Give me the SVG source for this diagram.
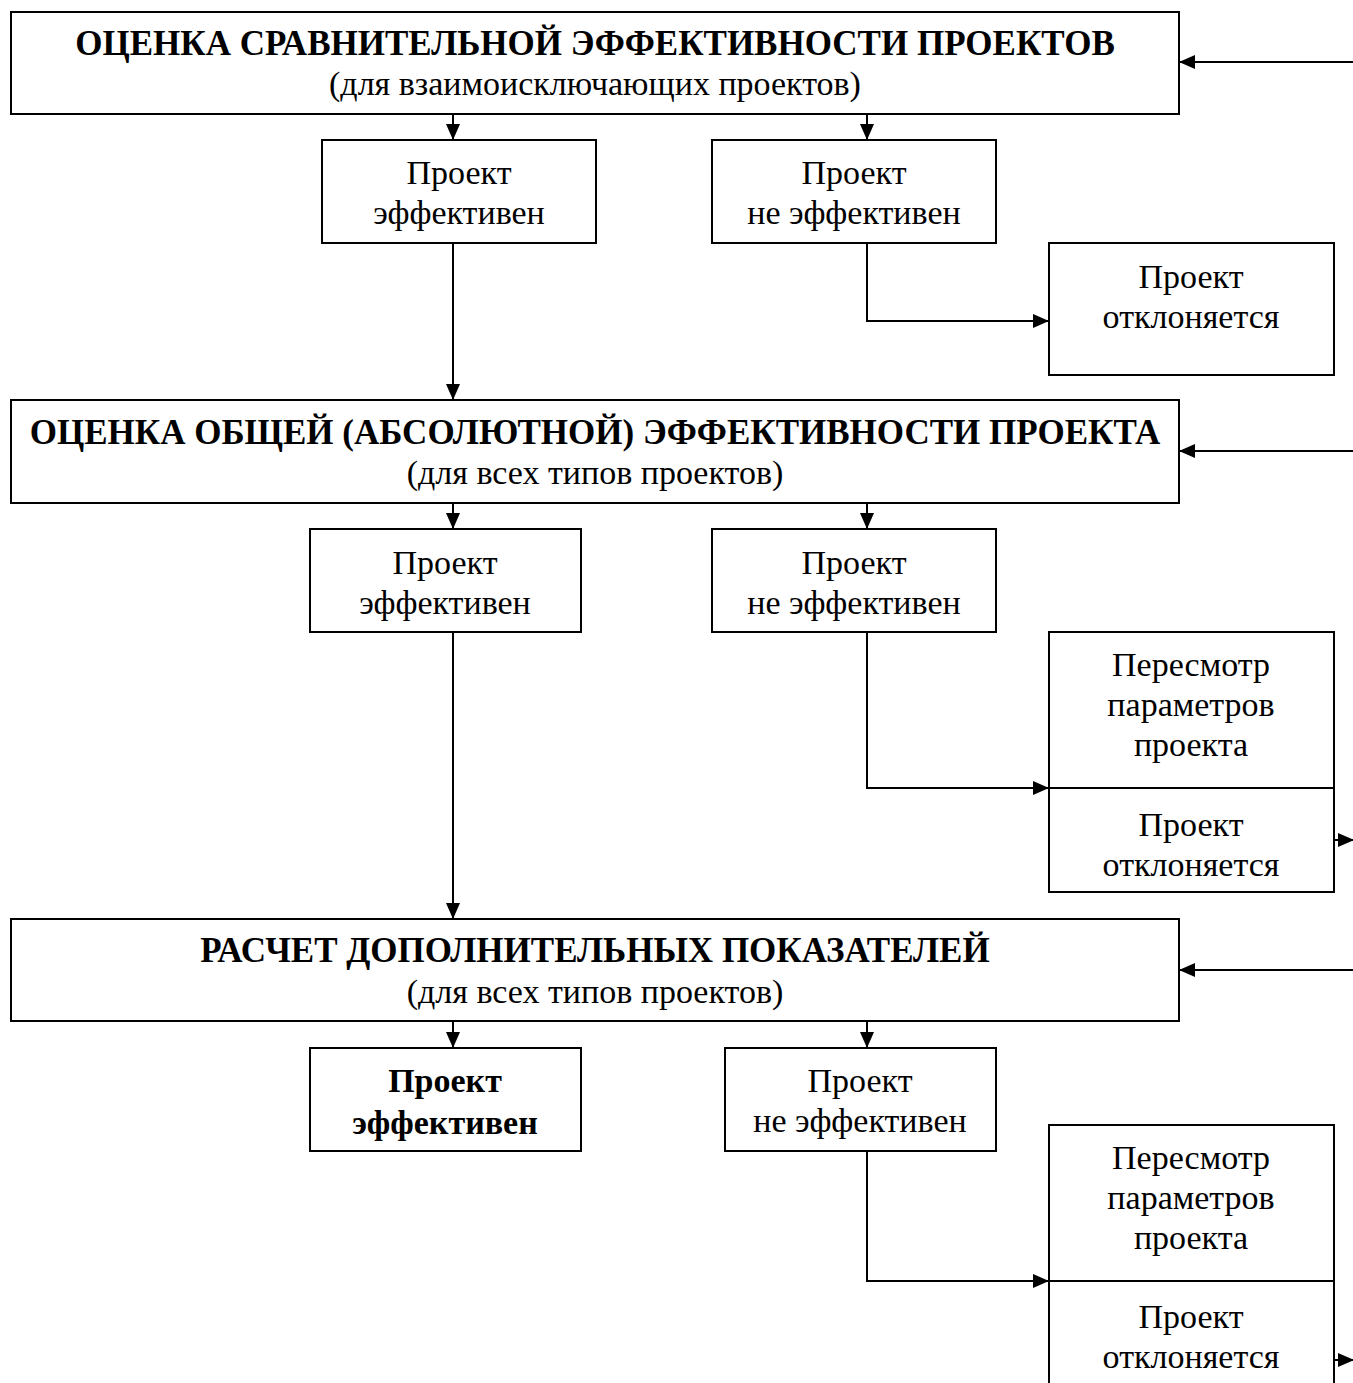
<svg xmlns="http://www.w3.org/2000/svg" width="1353" height="1383" viewBox="0 0 1353 1383">
<style>
rect{fill:#fff;stroke:#000;stroke-width:2}
text{font-family:"Liberation Serif","Times New Roman",serif;font-size:34px;fill:#000;text-anchor:middle}
.t{font-weight:bold;font-size:35px}
.b{font-weight:bold}
#connectors path,#connectors line{stroke:#000;stroke-width:2;fill:none;marker-end:url(#ah)}
</style>
<defs>
<marker id="ah" markerUnits="userSpaceOnUse" markerWidth="16" markerHeight="14" refX="15" refY="7" orient="auto">
<path d="M0,0 L16,7 L0,14 Z" fill="#000"/>
</marker>
</defs>
<rect x="0" y="0" width="1353" height="1383" style="stroke:none"/>
<g id="n1"><rect x="11" y="12" width="1168" height="102"/>
<text class="t" x="595" y="55">ОЦЕНКА СРАВНИТЕЛЬНОЙ ЭФФЕКТИВНОСТИ ПРОЕКТОВ</text>
<text x="595" y="95">(для взаимоисключающих проектов)</text></g>
<g id="n2"><rect x="322" y="140" width="274" height="103"/>
<text x="459" y="184">Проект</text><text x="459" y="224">эффективен</text></g>
<g id="n3"><rect x="712" y="140" width="284" height="103"/>
<text x="854" y="184">Проект</text><text x="854" y="224">не эффективен</text></g>
<g id="n4"><rect x="1049" y="243" width="285" height="132"/>
<text x="1191" y="288">Проект</text><text x="1191" y="328">отклоняется</text></g>
<g id="n5"><rect x="11" y="400" width="1168" height="103"/>
<text class="t" x="595" y="444">ОЦЕНКА ОБЩЕЙ (АБСОЛЮТНОЙ) ЭФФЕКТИВНОСТИ ПРОЕКТА</text>
<text x="595" y="484">(для всех типов проектов)</text></g>
<g id="n6"><rect x="310" y="529" width="271" height="103"/>
<text x="445" y="574">Проект</text><text x="445" y="614">эффективен</text></g>
<g id="n7"><rect x="712" y="529" width="284" height="103"/>
<text x="854" y="574">Проект</text><text x="854" y="614">не эффективен</text></g>
<g id="n8"><rect x="1049" y="632" width="285" height="156"/>
<text x="1191" y="676">Пересмотр</text><text x="1191" y="716">параметров</text><text x="1191" y="756">проекта</text></g>
<g id="n9"><rect x="1049" y="788" width="285" height="104"/>
<text x="1191" y="836">Проект</text><text x="1191" y="876">отклоняется</text></g>
<g id="n10"><rect x="11" y="919" width="1168" height="102"/>
<text class="t" x="595" y="962">РАСЧЕТ ДОПОЛНИТЕЛЬНЫХ ПОКАЗАТЕЛЕЙ</text>
<text x="595" y="1003">(для всех типов проектов)</text></g>
<g id="n11"><rect x="310" y="1048" width="271" height="103"/>
<text class="b" x="445" y="1092">Проект</text><text class="b" x="445" y="1134">эффективен</text></g>
<g id="n12"><rect x="725" y="1048" width="271" height="103"/>
<text x="860" y="1092">Проект</text><text x="860" y="1132">не эффективен</text></g>
<g id="n13"><rect x="1049" y="1125" width="285" height="156"/>
<text x="1191" y="1169">Пересмотр</text><text x="1191" y="1209">параметров</text><text x="1191" y="1249">проекта</text></g>
<g id="n14"><rect x="1049" y="1281" width="285" height="110"/>
<text x="1191" y="1328">Проект</text><text x="1191" y="1368">отклоняется</text></g>
<g id="connectors">
<line x1="1353" y1="62" x2="1180" y2="62"/>
<line x1="453" y1="114" x2="453" y2="139"/>
<line x1="867" y1="114" x2="867" y2="139"/>
<path d="M867,243 V321 H1048"/>
<line x1="453" y1="243" x2="453" y2="399"/>
<line x1="1353" y1="451" x2="1180" y2="451"/>
<line x1="453" y1="503" x2="453" y2="528"/>
<line x1="867" y1="503" x2="867" y2="528"/>
<path d="M867,632 V788 H1048"/>
<line x1="453" y1="632" x2="453" y2="918"/>
<line x1="1334" y1="840" x2="1353" y2="840"/>
<line x1="1353" y1="970" x2="1180" y2="970"/>
<line x1="453" y1="1021" x2="453" y2="1047"/>
<line x1="867" y1="1021" x2="867" y2="1047"/>
<path d="M867,1151 V1281 H1048"/>
<line x1="1334" y1="1360" x2="1353" y2="1360"/>
</g>
</svg>
